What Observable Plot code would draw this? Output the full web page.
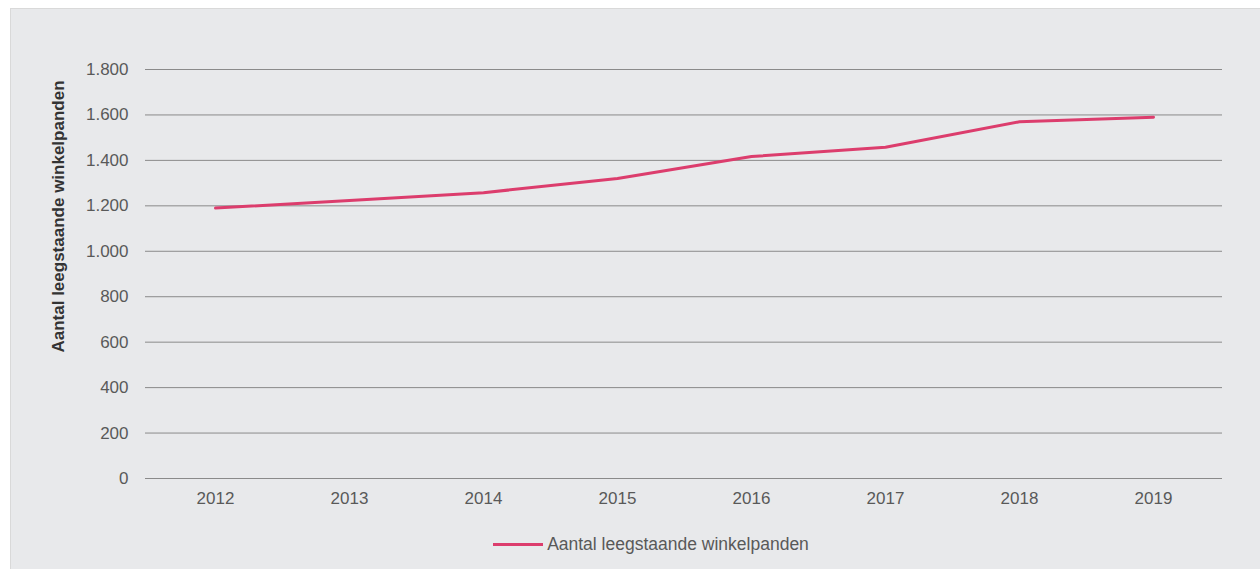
<!DOCTYPE html>
<html>
<head>
<meta charset="utf-8">
<script src="https://cdn.jsdelivr.net/npm/d3@7"></script>
<script src="https://cdn.jsdelivr.net/npm/@observablehq/plot@0.6"></script>
<style>
  html, body { margin: 0; padding: 0; background: #ffffff; }
  body { width: 1260px; height: 569px; position: relative; overflow: hidden; font-family: "Liberation Sans", Arial, sans-serif; }
  #panel { position: absolute; left: 10px; top: 8px; width: 1250px; height: 561px; background: #e8e9eb; border-left: 1px solid #d9d9d9; border-top: 1px solid #d9d9d9; box-sizing: border-box; }
  #chart { position: absolute; left: -1px; top: -1px; }
  #legend { position: absolute; left: 0; width: 1250px; top: 525px; padding-left: 30px; box-sizing: border-box; line-height: 20px; text-align: center; font-size: 17.5px; color: #595959; }
  #legend .sw { display: inline-block; width: 50px; height: 3px; background: #dc3d6d; vertical-align: middle; margin-right: 4px; position: relative; top: -1px; }
</style>
</head>
<body>
<div id="panel">
  <div id="chart"></div>
  <div id="legend"><span class="sw"></span>Aantal leegstaande winkelpanden</div>
</div>
<script>
const years = ["2012", "2013", "2014", "2015", "2016", "2017", "2018", "2019"];
const values = [1190, 1223, 1258, 1320, 1417, 1458, 1570, 1590];
const yTicks = [0, 200, 400, 600, 800, 1000, 1200, 1400, 1600, 1800];
const yLabel = "Aantal leegstaande winkelpanden";
const seriesName = "Aantal leegstaande winkelpanden";

const data = years.map((y, i) => ({year: y, value: values[i], series: seriesName}));
const nl = d3.formatLocale({decimal: ",", thousands: ".", grouping: [3], currency: ["€", ""]});
const fmt = nl.format(",");

const chart = Plot.plot({
  width: 1250,
  height: 515,
  marginTop: 61,
  marginLeft: 135,
  marginRight: 38,
  marginBottom: 45,
  style: {background: "transparent", fontFamily: "Liberation Sans, Arial, sans-serif", fontSize: "17px", color: "#595959"},
  x: {type: "point", domain: years, padding: 0.5, label: null},
  y: {domain: [0, 1800], ticks: yTicks, label: null},
  marks: [
    Plot.gridY(yTicks, {stroke: "#8a8a8a", strokeOpacity: 1, strokeWidth: 1}),
    Plot.axisY(yTicks, {tickSize: 0, tickPadding: 17, tickFormat: fmt, fontSize: 17, fill: "#595959", label: null}),
    Plot.axisX(years, {tickSize: 0, tickPadding: 13, fontSize: 17, fill: "#595959", label: null}),
    Plot.text([yLabel], {frameAnchor: "top-left", rotate: -90, dx: -94, dy: 147, fontWeight: "bold", fontSize: 17, fill: "#333333", textAnchor: "middle"}),
    Plot.line(data, {x: "year", y: "value", stroke: "#dc3d6d", strokeWidth: 3})
  ]
});
document.getElementById("chart").appendChild(chart);
</script>
</body>
</html>
